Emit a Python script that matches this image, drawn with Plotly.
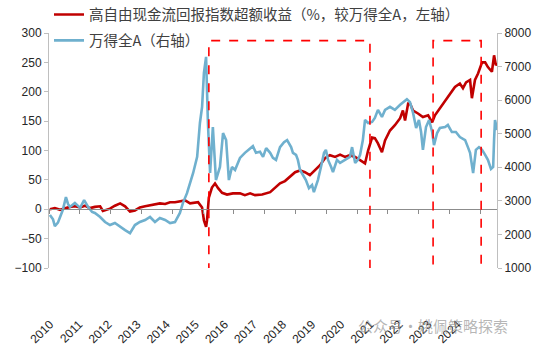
import plotly.graph_objects as go

# ---------------- data ----------------
RED_T = [2010.03, 2010.19, 2010.36, 2010.52, 2010.68, 2010.84, 2011.01, 2011.17, 2011.33, 2011.49,
         2011.66, 2011.75, 2011.85, 2011.98, 2012.14, 2012.31, 2012.47, 2012.63, 2012.79, 2012.95,
         2013.12, 2013.28, 2013.44, 2013.60, 2013.77, 2013.93, 2014.09, 2014.25, 2014.42, 2014.58,
         2014.74, 2014.84, 2014.97, 2015.03, 2015.10, 2015.13, 2015.19, 2015.29, 2015.39, 2015.49,
         2015.62, 2015.78, 2015.97, 2016.20, 2016.36, 2016.53, 2016.69, 2016.92, 2017.18, 2017.34,
         2017.50, 2017.66, 2017.82, 2017.99, 2018.15, 2018.31, 2018.47, 2018.64, 2018.80, 2018.96,
         2019.12, 2019.29, 2019.45, 2019.61, 2019.77, 2019.94, 2020.10, 2020.26, 2020.36, 2020.49,
         2020.58, 2020.68, 2020.81, 2020.91, 2021.07, 2021.23, 2021.40, 2021.49, 2021.56, 2021.66,
         2021.72, 2021.82, 2021.98, 2022.14, 2022.31, 2022.44, 2022.53, 2022.69, 2022.86, 2023.02,
         2023.18, 2023.34, 2023.44, 2023.54, 2023.67, 2023.73, 2023.83, 2023.93, 2024.06, 2024.16,
         2024.25, 2024.38, 2024.45, 2024.51, 2024.55]
RED_V = [0, 2, -1, 2, 4, 5, 3, 6, 2, 4,
         5, -3, -1, 1, 6, 10, 5, -4, -2, 3,
         5, 7, 8, 10, 9, 12, 12, 14, 15, 10,
         12, 12, 3, -19, -30, -19, 20, 37, 44, 36,
         28, 25, 27, 27, 24, 27, 24, 25, 29, 36,
         44, 48, 55, 63, 66, 63, 58, 66, 75, 87,
         92, 89, 93, 89, 92, 89, 83, 78, 100, 122,
         121, 112, 97, 117, 134, 143, 155, 168, 151, 180,
         180, 168, 163, 157, 160, 148, 160, 172, 186, 197,
         208, 214, 206, 216, 220, 189, 220, 231, 250, 250,
         242, 234, 262, 245, 249]

BLUE_T = [2010.03, 2010.13, 2010.19, 2010.29, 2010.36, 2010.45, 2010.55, 2010.62, 2010.68, 2010.84,
          2011.01, 2011.14, 2011.27, 2011.40, 2011.49, 2011.66, 2011.82, 2011.98, 2012.14, 2012.31,
          2012.47, 2012.63, 2012.79, 2012.95, 2013.12, 2013.28, 2013.44, 2013.60, 2013.77, 2013.93,
          2014.09, 2014.25, 2014.35, 2014.48, 2014.58, 2014.68, 2014.81, 2014.90, 2014.97, 2015.03,
          2015.10, 2015.16, 2015.23, 2015.32, 2015.42, 2015.55, 2015.65, 2015.75, 2015.84, 2015.94,
          2016.04, 2016.20, 2016.36, 2016.53, 2016.62, 2016.72, 2016.85, 2016.95, 2017.05, 2017.18,
          2017.27, 2017.37, 2017.50, 2017.63, 2017.73, 2017.86, 2017.92, 2018.02, 2018.08, 2018.15,
          2018.25, 2018.34, 2018.44, 2018.54, 2018.60, 2018.73, 2018.83, 2018.93, 2018.99, 2019.06,
          2019.16, 2019.22, 2019.35, 2019.45, 2019.61, 2019.77, 2019.84, 2019.94, 2020.03, 2020.10,
          2020.19, 2020.26, 2020.36, 2020.49, 2020.58, 2020.68, 2020.81, 2020.91, 2021.07, 2021.23,
          2021.40, 2021.49, 2021.62, 2021.72, 2021.82, 2021.92, 2022.01, 2022.08, 2022.14, 2022.24,
          2022.34, 2022.44, 2022.50, 2022.60, 2022.69, 2022.86, 2022.95, 2023.08, 2023.21, 2023.34,
          2023.51, 2023.60, 2023.67, 2023.77, 2023.86, 2023.96, 2024.06, 2024.16, 2024.25, 2024.35,
          2024.42, 2024.45, 2024.48, 2024.55]
BLUE_V = [2580, 2450, 2250, 2350, 2520, 2730, 3110, 2900, 2820, 2940,
          2790, 3020, 2820, 2670, 2640, 2520, 2370, 2280, 2340, 2220,
          2130, 2040, 2280, 2370, 2430, 2520, 2370, 2490, 2430, 2340,
          2370, 2640, 2940, 3230, 3530, 3830, 4310, 5320, 5800, 6810,
          7290, 5320, 3830, 5200, 3620, 4010, 5020, 4810, 3620, 4010,
          3920, 4280, 4430, 4570, 4630, 4430, 4460, 4310, 4570, 4430,
          4280, 4220, 4600, 4750, 4810, 4600, 4430, 4370, 4220, 3920,
          3770, 3620, 3380, 3470, 3260, 3620, 4010, 4430, 4520, 4220,
          4010, 3860, 4220, 4130, 4220, 4310, 4600, 4130, 4220, 4370,
          4810, 5410, 5320, 5350, 5470, 5710, 5500, 5710, 5800, 5710,
          5860, 5920, 6030, 5940, 5620, 5170, 5410, 5050, 4520, 5200,
          5410, 5050, 4660, 5020, 5170, 5200, 5260, 5050, 5050, 4900,
          4810, 4600, 4430, 3830, 4520, 4600, 4520, 4370, 4220, 3950,
          4010, 4810, 5410, 5110]

YEAR_LABELS = [str(y) for y in range(2010, 2025)]
YEAR_TICKS = list(range(2010, 2025))
HIGHLIGHTS = [(2015.19, 2020.42), (2022.47, 2024.03)]

RED_NAME = "高自由现金流回报指数超额收益（%，较万得全A，左轴）"
BLUE_NAME = "万得全A（右轴）"

# ---------------- figure ----------------
X0, X1 = 2010.0, 2024.545
# labels in the reference sit on a slightly tighter grid than the yearly ticks
LABEL_STEP = 29.1 / 30.8
LABEL_OFF = 1.0 / 30.8
label_vals = [X0 + LABEL_OFF + k * LABEL_STEP for k in range(len(YEAR_LABELS))]

RED = "#C00000"
BLUE = "#6FB0CE"
AXIS_GRAY = "#BFBFBF"
TXT = "#262626"

H, T, B = 356, 33, 10
paper_h = H - T - B
plot_bottom_px = 268
dom0 = (H - B - plot_bottom_px) / paper_h
zero_frac = (0 - (-100)) / (300 - (-100))
zero_pos = dom0 + (1 - dom0) * zero_frac
label_pos = (H - B - 314) / paper_h

fig = go.Figure()
fig.add_trace(go.Scatter(x=RED_T, y=RED_V, mode="lines", name=RED_NAME,
                         line=dict(color=RED, width=2.6), xaxis="x", yaxis="y",
                         legendgroup="a"))
fig.add_trace(go.Scatter(x=BLUE_T, y=BLUE_V, mode="lines", name=BLUE_NAME,
                         line=dict(color=BLUE, width=2.6), xaxis="x2", yaxis="y2",
                         legendgroup="b"))

for (a, b) in HIGHLIGHTS:
    fig.add_shape(type="rect", xref="x", yref="y", x0=a, x1=b, y0=-103, y1=287,
                  line=dict(color="#FF0000", width=1.6, dash="dash"), fillcolor="rgba(0,0,0,0)")

fig.update_layout(
    width=550, height=H,
    margin=dict(l=49, r=53, t=T, b=B, autoexpand=False),
    paper_bgcolor="white", plot_bgcolor="white",
    font=dict(family="Liberation Sans, Arial, sans-serif", size=12, color=TXT),
    showlegend=True,
    legend=dict(x=0.0, y=1.11, xanchor="left", yanchor="top",
                font=dict(family="Noto Sans CJK SC", size=14.5, color="#404040"),
                bgcolor="rgba(0,0,0,0)", traceorder="grouped", tracegroupgap=4,
                itemwidth=30),
    # zero line with yearly tick marks
    xaxis=dict(range=[X0, X1], anchor="free", position=zero_pos, automargin=False,
               showline=True, linecolor="#8C8C8C", linewidth=1,
               showgrid=False, zeroline=False,
               tickmode="array", tickvals=YEAR_TICKS, ticks="outside", ticklen=4,
               tickcolor="#8C8C8C", showticklabels=False),
    # year labels below the plot
    xaxis2=dict(range=[X0, X1], matches="x", overlaying="x", anchor="free",
                position=label_pos, automargin=False,
                showline=False, showgrid=False, zeroline=False,
                tickmode="array", tickvals=label_vals, ticktext=YEAR_LABELS,
                ticks="", tickangle=-45, tickfont=dict(size=12, color=TXT)),
    yaxis=dict(domain=[dom0, 1], range=[-100, 300], dtick=50, showgrid=False,
               zeroline=False, automargin=False, anchor="x",
               showline=True, linecolor=AXIS_GRAY, ticks="outside", ticklen=4,
               tickcolor=AXIS_GRAY, tickfont=dict(size=12, color=TXT)),
    yaxis2=dict(range=[1000, 8000], dtick=1000, overlaying="y", side="right", anchor="x2",
                showgrid=False, zeroline=False, showline=True, linecolor=AXIS_GRAY,
                automargin=False,
                ticks="outside", ticklen=4, tickcolor=AXIS_GRAY,
                tickfont=dict(size=12, color=TXT)),
)

fig.add_annotation(text="公众号·姚佩策略探索", xref="paper", yref="paper",
                   x=0.857, y=(H - B - 325) / paper_h, xanchor="center", yanchor="middle",
                   showarrow=False,
                   font=dict(family="Noto Sans CJK SC", size=15, color="rgba(150,150,150,0.7)"))

fig.write_html("out.html", config={"displayModeBar": False},
               post_script="document.body.style.margin='0';")
